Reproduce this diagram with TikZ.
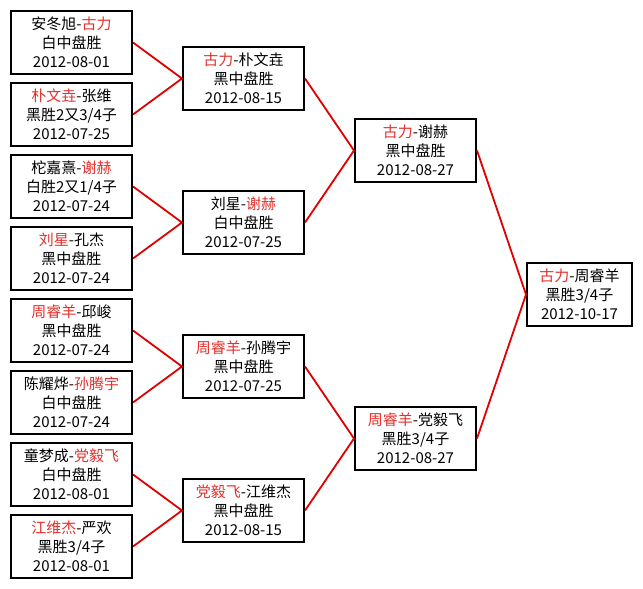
\documentclass[tikz,border=0pt]{standalone}
\usepackage{fontspec}
\setmainfont{Noto Sans CJK SC}
\usepackage{xcolor}
\usepackage{tikz}
\usetikzlibrary{positioning,calc}
\definecolor{WinRed}{HTML}{E3302C}
\definecolor{LinkRed}{HTML}{E00000}
\newcommand{\W}[1]{\textcolor{WinRed}{#1}}
\tikzset{
  % Match box
  MB/.style={rectangle,draw=black,line width=2pt,
             minimum width=121pt,minimum height=63pt,inner sep=0pt,
             text centered,align=center,
             font=\fontsize{15pt}{19pt}\selectfont},
  % Final box
  FM/.style={MB,minimum width=105pt},
  % Link
  lnk/.style={LinkRed,line width=1.8pt}
}

\begin{document}
\begin{tikzpicture}[x=1pt,y=-1pt]
  \useasboundingbox[fill=white] (0,0) rectangle (643,589);

  % Round 1
  \node[MB] at (71.5,42.5)        (r1a){安冬旭-\W{古力}\\白中盘胜\\2012-08-01};
  \node[MB,below=7pt of r1a]      (r1b){\W{朴文垚}-张维\\黑胜2又3/4子\\2012-07-25};
  \node[MB,below=7pt of r1b]      (r1c){柁嘉熹-\W{谢赫}\\白胜2又1/4子\\2012-07-24};
  \node[MB,below=7pt of r1c]      (r1d){\W{刘星}-孔杰\\黑中盘胜\\2012-07-24};
  \node[MB,below=7pt of r1d]      (r1e){\W{周睿羊}-邱峻\\黑中盘胜\\2012-07-24};
  \node[MB,below=7pt of r1e]      (r1f){陈耀烨-\W{孙腾宇}\\白中盘胜\\2012-07-24};
  \node[MB,below=7pt of r1f]      (r1g){童梦成-\W{党毅飞}\\白中盘胜\\2012-08-01};
  \node[MB,below=7pt of r1g]      (r1h){\W{江维杰}-严欢\\黑胜3/4子\\2012-08-01};

  % Round 2
  \node[MB] at ($(r1a)!0.5!(r1b)+(172,0)$) (r2a){\W{古力}-朴文垚\\黑中盘胜\\2012-08-15};
  \node[MB] at ($(r1c)!0.5!(r1d)+(172,0)$) (r2b){刘星-\W{谢赫}\\白中盘胜\\2012-07-25};
  \node[MB] at ($(r1e)!0.5!(r1f)+(172,0)$) (r2c){\W{周睿羊}-孙腾宇\\黑中盘胜\\2012-07-25};
  \node[MB] at ($(r1g)!0.5!(r1h)+(172,0)$) (r2d){\W{党毅飞}-江维杰\\黑中盘胜\\2012-08-15};

  % Round 3
  \node[MB] at ($(r2a)!0.5!(r2b)+(172,0)$) (r3a){\W{古力}-谢赫\\黑中盘胜\\2012-08-27};
  \node[MB] at ($(r2c)!0.5!(r2d)+(172,0)$) (r3b){\W{周睿羊}-党毅飞\\黑胜3/4子\\2012-08-27};

  % Final
  \node[FM] at ($(r3a)!0.5!(r3b)+(164,0)$) (fin){\W{古力}-周睿羊\\黑胜3/4子\\2012-10-17};

  \draw[lnk](r1a.east)--(r2a.west)--(r1b.east);
  \draw[lnk](r1c.east)--(r2b.west)--(r1d.east);
  \draw[lnk](r1e.east)--(r2c.west)--(r1f.east);
  \draw[lnk](r1g.east)--(r2d.west)--(r1h.east);
  \draw[lnk](r2a.east)--(r3a.west)--(r2b.east);
  \draw[lnk](r2c.east)--(r3b.west)--(r2d.east);
  \draw[lnk](r3a.east)--(fin.west)--(r3b.east);
\end{tikzpicture}
\end{document}
